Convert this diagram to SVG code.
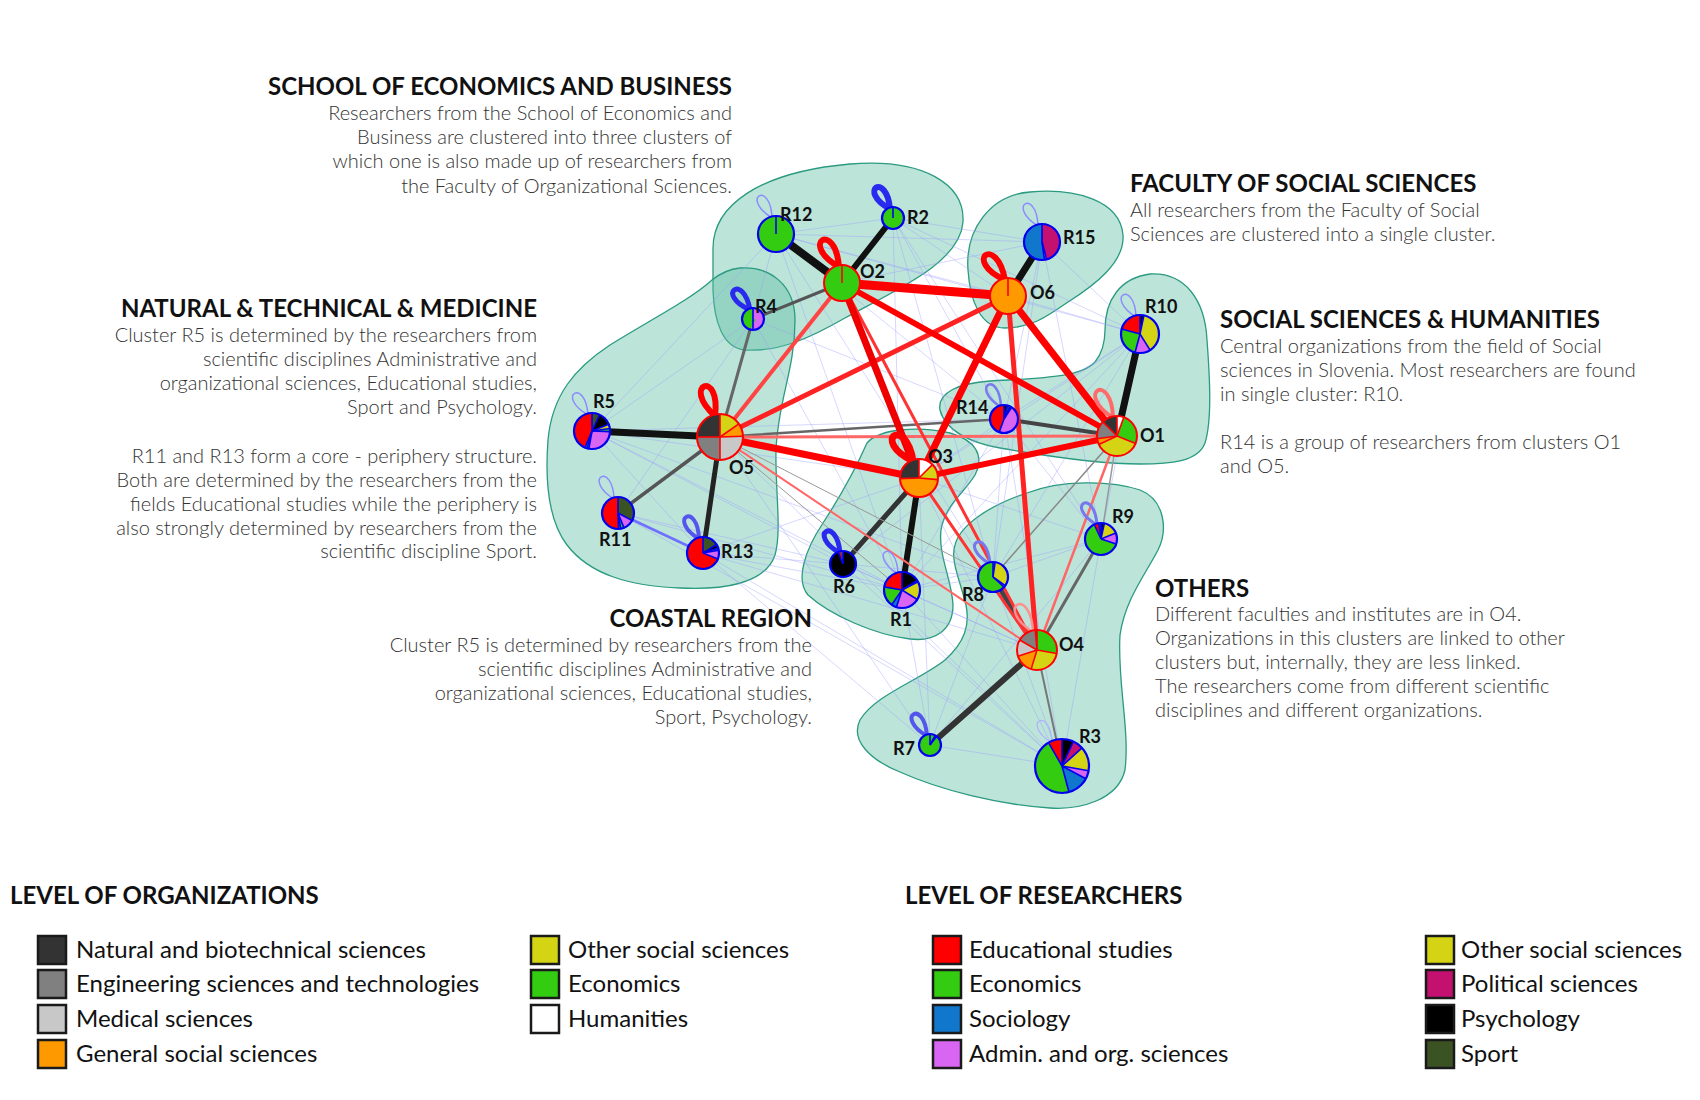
<svg xmlns="http://www.w3.org/2000/svg" xmlns:xlink="http://www.w3.org/1999/xlink" width="1700" height="1100" viewBox="0 0 1700 1100">
<defs>
<style>
.hull{fill:#5fbfa5;fill-opacity:.42;stroke:#2a9a80;stroke-width:1.3}
.title{font-family:Lato,"Liberation Sans",sans-serif;font-weight:700;font-size:24px;fill:#111}
.body{font-family:Lato,"Liberation Sans",sans-serif;font-weight:300;font-size:20px;fill:#333}
.end{text-anchor:end}
.lbl{font-family:Lato,"Liberation Sans",sans-serif;font-weight:700;font-size:18px;fill:#111}
.legh{font-family:Lato,"Liberation Sans",sans-serif;font-weight:700;font-size:24px;fill:#111}
.leg{font-family:Lato,"Liberation Sans",sans-serif;font-weight:400;font-size:24px;fill:#111}
.sw{stroke:#1a1a1a;stroke-width:2.5}
.faint line{stroke:#9a9aff;stroke-width:.8;stroke-opacity:.5}
.seg{fill:none}
.dr line{stroke:#ff0000;stroke-width:1.6}
.db line{stroke:#0000ee;stroke-width:1.6}
.ringO{fill:none;stroke:#ff0000;stroke-width:2}
.ringR{fill:none;stroke:#0000ee;stroke-width:2.2}
</style>
<path id="lps" d="M0,0 C-18,-34 18,-34 0,0" fill="none"/>
<path id="lpb" d="M0,0 C-22,-42 22,-42 0,0" fill="none"/>
</defs>

<rect width="1700" height="1100" fill="#ffffff"/>

<!-- cluster hulls -->
<g id="clusters">
<path class="hull" d="M713,250 C712,205 760,172 850,164 C925,158 965,185 963,222 C960,262 900,288 845,318 C810,338 780,352 745,350 C722,348 714,320 713,290 Z"/>
<path class="hull" d="M740,268 C770,266 795,285 795,320 C795,370 778,400 776,450 C775,490 782,530 775,555 C765,585 720,590 680,588 C630,586 590,575 567,545 C548,520 545,480 548,440 C552,395 575,368 610,345 C650,320 690,300 712,280 C722,272 730,269 740,268 Z"/>
<path class="hull" d="M968,270 C965,230 990,195 1030,192 C1075,188 1120,200 1123,235 C1125,262 1095,285 1068,302 C1045,318 1030,328 1005,328 C980,328 970,300 968,270 Z"/>
<path class="hull" d="M1105,330 C1105,300 1120,278 1150,274 C1185,272 1205,300 1207,340 C1210,380 1212,420 1205,443 C1198,462 1170,464 1140,464 C1100,464 1040,455 1000,448 C970,443 945,430 940,410 C937,392 960,383 990,381 C1040,378 1080,378 1095,362 C1103,352 1105,342 1105,330 Z"/>
<path class="hull" d="M867,443 C880,428 920,426 950,433 C975,440 985,455 975,475 C965,492 945,505 941,530 C938,555 952,580 953,605 C953,630 935,642 910,639 C875,635 830,615 808,595 C795,580 805,550 823,523 C838,500 855,470 867,443 Z"/>
<path class="hull" d="M1027,493 C1060,480 1110,480 1140,490 C1165,500 1168,530 1158,550 C1145,575 1125,600 1120,635 C1117,680 1130,730 1125,770 C1118,800 1080,810 1050,808 C1000,805 940,790 900,772 C870,760 850,740 860,720 C875,695 920,680 945,660 C965,642 970,625 966,605 C960,580 950,560 955,545 C960,525 990,505 1027,493 Z"/>
</g>

<!-- connectors -->
<g id="connectors">
<g class="faint">
<line x1="776" y1="234" x2="893" y2="218"/><line x1="776" y1="234" x2="753" y2="319"/><line x1="776" y1="234" x2="1042" y2="242"/>
<line x1="776" y1="234" x2="1140" y2="334"/><line x1="776" y1="234" x2="1004" y2="419"/><line x1="776" y1="234" x2="993" y2="577"/>
<line x1="776" y1="234" x2="902" y2="590"/><line x1="893" y1="218" x2="1042" y2="242"/><line x1="893" y1="218" x2="1004" y2="419"/>
<line x1="893" y1="218" x2="993" y2="577"/><line x1="893" y1="218" x2="1101" y2="539"/><line x1="893" y1="218" x2="1140" y2="334"/>
<line x1="893" y1="218" x2="902" y2="590"/><line x1="753" y1="319" x2="592" y2="431"/><line x1="753" y1="319" x2="1004" y2="419"/>
<line x1="753" y1="319" x2="618" y2="513"/><line x1="753" y1="319" x2="902" y2="590"/>
<line x1="592" y1="431" x2="1004" y2="419"/><line x1="592" y1="431" x2="902" y2="590"/><line x1="592" y1="431" x2="703" y2="553"/>
<line x1="592" y1="431" x2="843" y2="564"/><line x1="592" y1="431" x2="993" y2="577"/>
<line x1="618" y1="513" x2="902" y2="590"/><line x1="618" y1="513" x2="843" y2="564"/><line x1="618" y1="513" x2="1062" y2="766"/>
<line x1="703" y1="553" x2="902" y2="590"/><line x1="703" y1="553" x2="843" y2="564"/><line x1="703" y1="553" x2="930" y2="745"/>
<line x1="703" y1="553" x2="1062" y2="766"/><line x1="843" y1="564" x2="902" y2="590"/><line x1="843" y1="564" x2="993" y2="577"/>
<line x1="843" y1="564" x2="1062" y2="766"/><line x1="902" y1="590" x2="993" y2="577"/><line x1="902" y1="590" x2="1062" y2="766"/>
<line x1="902" y1="590" x2="930" y2="745"/><line x1="902" y1="590" x2="1101" y2="539"/><line x1="993" y1="577" x2="1101" y2="539"/>
<line x1="993" y1="577" x2="1062" y2="766"/><line x1="993" y1="577" x2="930" y2="745"/><line x1="1101" y1="539" x2="1062" y2="766"/>
<line x1="1101" y1="539" x2="1004" y2="419"/><line x1="1101" y1="539" x2="930" y2="745"/><line x1="1140" y1="334" x2="1004" y2="419"/>
<line x1="1140" y1="334" x2="1042" y2="242"/><line x1="1140" y1="334" x2="1101" y2="539"/><line x1="1140" y1="334" x2="993" y2="577"/>
<line x1="1140" y1="334" x2="902" y2="590"/><line x1="1004" y1="419" x2="902" y2="590"/><line x1="1004" y1="419" x2="993" y2="577"/>
<line x1="1004" y1="419" x2="1062" y2="766"/><line x1="1042" y1="242" x2="1004" y2="419"/><line x1="1042" y1="242" x2="1101" y2="539"/>
<line x1="1042" y1="242" x2="993" y2="577"/><line x1="930" y1="745" x2="1062" y2="766"/><line x1="776" y1="234" x2="592" y2="431"/>
<line x1="1140" y1="334" x2="843" y2="564"/><line x1="776" y1="234" x2="1008" y2="296"/><line x1="893" y1="218" x2="1008" y2="296"/>
<line x1="1042" y1="242" x2="842" y2="283"/><line x1="1140" y1="334" x2="1008" y2="296"/><line x1="1004" y1="419" x2="919" y2="478"/>
<line x1="1101" y1="539" x2="919" y2="478"/><line x1="1062" y1="766" x2="919" y2="478"/><line x1="930" y1="745" x2="919" y2="478"/>
<line x1="902" y1="590" x2="1037" y2="650"/><line x1="843" y1="564" x2="1037" y2="650"/><line x1="592" y1="431" x2="919" y2="478"/>
<line x1="1140" y1="334" x2="919" y2="478"/><line x1="1062" y1="766" x2="720" y2="437"/><line x1="930" y1="745" x2="720" y2="437"/>
<line x1="703" y1="553" x2="919" y2="478"/><line x1="703" y1="553" x2="1037" y2="650"/>
</g>
<g fill="none" stroke-linecap="round">
<line x1="842" y1="283" x2="776" y2="234" stroke="#111" stroke-width="8"/>
<line x1="842" y1="283" x2="893" y2="218" stroke="#111" stroke-width="6"/>
<line x1="842" y1="283" x2="753" y2="319" stroke="#555" stroke-width="3"/>
<line x1="1008" y1="296" x2="1042" y2="242" stroke="#111" stroke-width="7"/>
<line x1="1117" y1="436" x2="1140" y2="334" stroke="#111" stroke-width="7"/>
<line x1="1117" y1="436" x2="1004" y2="419" stroke="#444" stroke-width="4"/>
<line x1="720" y1="437" x2="1004" y2="419" stroke="#666" stroke-width="2.5"/>
<line x1="720" y1="437" x2="592" y2="431" stroke="#111" stroke-width="7"/>
<line x1="720" y1="437" x2="753" y2="319" stroke="#666" stroke-width="3"/>
<line x1="720" y1="437" x2="618" y2="513" stroke="#555" stroke-width="3.5"/>
<line x1="720" y1="437" x2="703" y2="553" stroke="#222" stroke-width="5"/>
<line x1="618" y1="513" x2="703" y2="553" stroke="#7070ff" stroke-width="2.5"/>
<line x1="919" y1="478" x2="843" y2="564" stroke="#333" stroke-width="5"/>
<line x1="919" y1="478" x2="902" y2="590" stroke="#111" stroke-width="6"/>
<line x1="1037" y1="650" x2="993" y2="577" stroke="#444" stroke-width="5"/>
<line x1="1037" y1="650" x2="1101" y2="539" stroke="#666" stroke-width="3"/>
<line x1="1037" y1="650" x2="930" y2="745" stroke="#333" stroke-width="6"/>
<line x1="1037" y1="650" x2="1062" y2="766" stroke="#777" stroke-width="2"/>
<line x1="1117" y1="436" x2="993" y2="577" stroke="#888" stroke-width="1.5"/>
<line x1="1117" y1="436" x2="1101" y2="539" stroke="#999" stroke-width="1.5"/>
<line x1="720" y1="437" x2="993" y2="577" stroke="#999" stroke-width="1"/>
<line x1="720" y1="437" x2="902" y2="590" stroke="#999" stroke-width="1"/>
</g>
<g fill="none" stroke-linecap="round">
<line x1="720" y1="437" x2="1117" y2="436" stroke="#ff6666" stroke-width="3"/>
<line x1="720" y1="437" x2="1037" y2="650" stroke="#ff6666" stroke-width="2"/>
<line x1="1117" y1="436" x2="1037" y2="650" stroke="#ff6666" stroke-width="2.5"/>
<line x1="842" y1="283" x2="1037" y2="650" stroke="#ff3333" stroke-width="3"/>
<line x1="919" y1="478" x2="1037" y2="650" stroke="#ff3333" stroke-width="3"/>
<line x1="720" y1="437" x2="842" y2="283" stroke="#ff4444" stroke-width="4"/>
<line x1="720" y1="437" x2="1008" y2="296" stroke="#ff2222" stroke-width="5"/>
<line x1="1008" y1="296" x2="1037" y2="650" stroke="#ff2222" stroke-width="5"/>
<line x1="842" y1="283" x2="1117" y2="436" stroke="#ff0000" stroke-width="6"/>
<line x1="842" y1="283" x2="919" y2="478" stroke="#ee0000" stroke-width="7"/>
<line x1="1008" y1="296" x2="919" y2="478" stroke="#ff0000" stroke-width="7"/>
<line x1="1008" y1="296" x2="1117" y2="436" stroke="#ff0000" stroke-width="7"/>
<line x1="720" y1="437" x2="919" y2="478" stroke="#ff0000" stroke-width="7"/>
<line x1="919" y1="478" x2="1117" y2="436" stroke="#ff0000" stroke-width="6"/>
<line x1="842" y1="283" x2="1008" y2="296" stroke="#ff0000" stroke-width="9"/>
</g>
</g>

<!-- nodes: organizations (red rim) and researcher groups (blue rim) -->
<g id="O2" transform="translate(842,283)">
<use xlink:href="#lpb" transform="translate(-3,-16) rotate(-32)" stroke="#ff0000" stroke-width="6"/>
<circle r="18" fill="#33cc11"/>
<g class="dr"><line y2="-18"/></g><circle r="18" class="ringO"/>
</g>
<g id="R12" transform="translate(776,234)">
<use xlink:href="#lps" transform="translate(-4,-16) rotate(-30)" stroke="#8c8cff" stroke-width="1.5"/>
<circle r="18" fill="#33cc11"/>
<g class="db"><line y2="-18"/></g><circle r="18" class="ringR"/>
</g>
<g id="R2" transform="translate(893,218)">
<use xlink:href="#lps" transform="translate(-3,-9) rotate(-33)" stroke="#2a2aee" stroke-width="6"/>
<circle r="11" fill="#33cc11"/>
<g class="db"><line y2="-11"/></g><circle r="11" class="ringR"/>
</g>
<g id="R4" transform="translate(753,319)">
<use xlink:href="#lps" transform="translate(-3,-9) rotate(-38)" stroke="#2a2aee" stroke-width="5"/>
<circle r="11" fill="#33cc11"/>
<g transform="rotate(-90)"><circle class="seg" r="5.5" stroke-width="11" pathLength="360" stroke="#d966f2" stroke-dasharray="180 360"/></g>
<g class="db"><line y2="-11"/><line y2="-11" transform="rotate(180)"/></g><circle r="11" class="ringR"/>
</g>
<g id="O6" transform="translate(1008,296)">
<use xlink:href="#lpb" transform="translate(-3,-16) rotate(-38)" stroke="#ff0000" stroke-width="6"/>
<circle r="18" fill="#ff9900"/>
<g class="dr"><line y2="-18"/></g><circle r="18" class="ringO"/>
</g>
<g id="R15" transform="translate(1042,242)">
<use xlink:href="#lps" transform="translate(-4,-16) rotate(-30)" stroke="#8c8cff" stroke-width="1.5"/>
<circle r="18" fill="#1177cc"/>
<g transform="rotate(-90)">
<circle class="seg" r="9" stroke-width="18" pathLength="360" stroke="#c4106f" stroke-dasharray="165 360"/>
<circle class="seg" r="9" stroke-width="18" pathLength="360" stroke="#d966f2" stroke-dasharray="7 360" stroke-dashoffset="-165"/>
</g>
<g class="db"><line y2="-18"/><line y2="-18" transform="rotate(165)"/><line y2="-18" transform="rotate(172)"/></g><circle r="18" class="ringR"/>
</g>
<g id="R10" transform="translate(1140,334)">
<use xlink:href="#lps" transform="translate(-4,-17) rotate(-30)" stroke="#8c8cff" stroke-width="1.5"/>
<circle r="19" fill="#d4d414"/>
<g transform="rotate(-90)">
<circle class="seg" r="9.5" stroke-width="19" pathLength="360" stroke="#000" stroke-dasharray="12 360"/>
<circle class="seg" r="9.5" stroke-width="19" pathLength="360" stroke="#d966f2" stroke-dasharray="47 360" stroke-dashoffset="-148"/>
<circle class="seg" r="9.5" stroke-width="19" pathLength="360" stroke="#33cc11" stroke-dasharray="90 360" stroke-dashoffset="-195"/>
<circle class="seg" r="9.5" stroke-width="19" pathLength="360" stroke="#ff0000" stroke-dasharray="75 360" stroke-dashoffset="-285"/>
</g>
<g class="db"><line y2="-19"/><line y2="-19" transform="rotate(12)"/><line y2="-19" transform="rotate(148)"/><line y2="-19" transform="rotate(195)"/><line y2="-19" transform="rotate(285)"/></g><circle r="19" class="ringR"/>
</g>
<g id="O1" transform="translate(1117,436)">
<use xlink:href="#lpb" transform="translate(-4,-18) rotate(-29)" stroke="#ff6a6a" stroke-width="4"/>
<circle r="20" fill="#d4d414"/>
<g transform="rotate(-90)">
<circle class="seg" r="10" stroke-width="20" pathLength="360" stroke="#fff" stroke-dasharray="20 360"/>
<circle class="seg" r="10" stroke-width="20" pathLength="360" stroke="#33cc11" stroke-dasharray="92 360" stroke-dashoffset="-20"/>
<circle class="seg" r="10" stroke-width="20" pathLength="360" stroke="#ff9900" stroke-dasharray="17 360" stroke-dashoffset="-245"/>
<circle class="seg" r="10" stroke-width="20" pathLength="360" stroke="#808080" stroke-dasharray="53 360" stroke-dashoffset="-262"/>
<circle class="seg" r="10" stroke-width="20" pathLength="360" stroke="#333" stroke-dasharray="45 360" stroke-dashoffset="-315"/>
</g>
<g class="dr"><line y2="-20"/><line y2="-20" transform="rotate(20)"/><line y2="-20" transform="rotate(112)"/><line y2="-20" transform="rotate(245)"/><line y2="-20" transform="rotate(262)"/><line y2="-20" transform="rotate(315)"/></g><circle r="20" class="ringO"/>
</g>
<g id="R14" transform="translate(1004,419)">
<use xlink:href="#lps" transform="translate(-3,-12) rotate(-30)" stroke="#7a7aee" stroke-width="2.5"/>
<circle r="14" fill="#ff0000"/>
<g transform="rotate(-90)">
<circle class="seg" r="7" stroke-width="14" pathLength="360" stroke="#000" stroke-dasharray="14 360"/>
<circle class="seg" r="7" stroke-width="14" pathLength="360" stroke="#3b5323" stroke-dasharray="12 360" stroke-dashoffset="-14"/>
<circle class="seg" r="7" stroke-width="14" pathLength="360" stroke="#33cc11" stroke-dasharray="7 360" stroke-dashoffset="-26"/>
<circle class="seg" r="7" stroke-width="14" pathLength="360" stroke="#d966f2" stroke-dasharray="167 360" stroke-dashoffset="-33"/>
</g>
<g class="db"><line y2="-14"/><line y2="-14" transform="rotate(14)"/><line y2="-14" transform="rotate(26)"/><line y2="-14" transform="rotate(33)"/><line y2="-14" transform="rotate(200)"/></g><circle r="14" class="ringR"/>
</g>
<g id="O5" transform="translate(720,437)">
<use xlink:href="#lpb" transform="translate(-5,-21) rotate(-20)" stroke="#ff0000" stroke-width="6"/>
<circle r="23" fill="#c8c8c8"/>
<g transform="rotate(-90)">
<circle class="seg" r="11.5" stroke-width="23" pathLength="360" stroke="#d4d414" stroke-dasharray="55 360"/>
<circle class="seg" r="11.5" stroke-width="23" pathLength="360" stroke="#ff9900" stroke-dasharray="33 360" stroke-dashoffset="-55"/>
<circle class="seg" r="11.5" stroke-width="23" pathLength="360" stroke="#808080" stroke-dasharray="90 360" stroke-dashoffset="-180"/>
<circle class="seg" r="11.5" stroke-width="23" pathLength="360" stroke="#333" stroke-dasharray="90 360" stroke-dashoffset="-270"/>
</g>
<g class="dr"><line y2="-23"/><line y2="-23" transform="rotate(55)"/><line y2="-23" transform="rotate(88)"/><line y2="-23" transform="rotate(180)"/><line y2="-23" transform="rotate(270)"/></g><circle r="23" class="ringO"/>
</g>
<g id="R5" transform="translate(592,431)">
<use xlink:href="#lps" transform="translate(-4,-16) rotate(-32)" stroke="#8c8cff" stroke-width="1.5"/>
<circle r="18" fill="#ff0000"/>
<g transform="rotate(-90)">
<circle class="seg" r="9" stroke-width="18" pathLength="360" stroke="#3b5323" stroke-dasharray="25 360"/>
<circle class="seg" r="9" stroke-width="18" pathLength="360" stroke="#000" stroke-dasharray="43 360" stroke-dashoffset="-25"/>
<circle class="seg" r="9" stroke-width="18" pathLength="360" stroke="#d4d414" stroke-dasharray="14 360" stroke-dashoffset="-68"/>
<circle class="seg" r="9" stroke-width="18" pathLength="360" stroke="#33cc11" stroke-dasharray="10 360" stroke-dashoffset="-82"/>
<circle class="seg" r="9" stroke-width="18" pathLength="360" stroke="#d966f2" stroke-dasharray="98 360" stroke-dashoffset="-92"/>
<circle class="seg" r="9" stroke-width="18" pathLength="360" stroke="#1177cc" stroke-dasharray="6 360" stroke-dashoffset="-190"/>
<circle class="seg" r="9" stroke-width="18" pathLength="360" stroke="#33cc11" stroke-dasharray="7 360" stroke-dashoffset="-196"/>
</g>
<g class="db"><line y2="-18"/><line y2="-18" transform="rotate(25)"/><line y2="-18" transform="rotate(68)"/><line y2="-18" transform="rotate(82)"/><line y2="-18" transform="rotate(92)"/><line y2="-18" transform="rotate(190)"/><line y2="-18" transform="rotate(196)"/><line y2="-18" transform="rotate(203)"/></g><circle r="18" class="ringR"/>
</g>
<g id="R11" transform="translate(618,513)">
<use xlink:href="#lps" transform="translate(-4,-14) rotate(-30)" stroke="#8c8cff" stroke-width="1.5"/>
<circle r="16" fill="#ff0000"/>
<g transform="rotate(-90)">
<circle class="seg" r="8" stroke-width="16" pathLength="360" stroke="#3b5323" stroke-dasharray="118 360"/>
<circle class="seg" r="8" stroke-width="16" pathLength="360" stroke="#d966f2" stroke-dasharray="40 360" stroke-dashoffset="-118"/>
<circle class="seg" r="8" stroke-width="16" pathLength="360" stroke="#33cc11" stroke-dasharray="12 360" stroke-dashoffset="-158"/>
<circle class="seg" r="8" stroke-width="16" pathLength="360" stroke="#1177cc" stroke-dasharray="8 360" stroke-dashoffset="-170"/>
</g>
<g class="db"><line y2="-16"/><line y2="-16" transform="rotate(118)"/><line y2="-16" transform="rotate(158)"/><line y2="-16" transform="rotate(170)"/><line y2="-16" transform="rotate(178)"/></g><circle r="16" class="ringR"/>
</g>
<g id="R13" transform="translate(703,553)">
<use xlink:href="#lps" transform="translate(-4,-14) rotate(-30)" stroke="#5555ee" stroke-width="4"/>
<circle r="16" fill="#ff0000"/>
<g transform="rotate(-90)">
<circle class="seg" r="8" stroke-width="16" pathLength="360" stroke="#3b5323" stroke-dasharray="58 360"/>
<circle class="seg" r="8" stroke-width="16" pathLength="360" stroke="#000" stroke-dasharray="14 360" stroke-dashoffset="-58"/>
<circle class="seg" r="8" stroke-width="16" pathLength="360" stroke="#1177cc" stroke-dasharray="8 360" stroke-dashoffset="-72"/>
<circle class="seg" r="8" stroke-width="16" pathLength="360" stroke="#d966f2" stroke-dasharray="32 360" stroke-dashoffset="-80"/>
</g>
<g class="db"><line y2="-16"/><line y2="-16" transform="rotate(58)"/><line y2="-16" transform="rotate(72)"/><line y2="-16" transform="rotate(80)"/><line y2="-16" transform="rotate(112)"/></g><circle r="16" class="ringR"/>
</g>
<g id="O3" transform="translate(919,478)">
<use xlink:href="#lpb" transform="translate(-6,-17) rotate(-37)" stroke="#ff0000" stroke-width="7"/>
<circle r="19" fill="#ff9900"/>
<g transform="rotate(-90)">
<circle class="seg" r="9.5" stroke-width="19" pathLength="360" stroke="#fff" stroke-dasharray="45 360"/>
<circle class="seg" r="9.5" stroke-width="19" pathLength="360" stroke="#d4d414" stroke-dasharray="50 360" stroke-dashoffset="-45"/>
<circle class="seg" r="9.5" stroke-width="19" pathLength="360" stroke="#333" stroke-dasharray="92 360" stroke-dashoffset="-268"/>
</g>
<g class="dr"><line y2="-19"/><line y2="-19" transform="rotate(45)"/><line y2="-19" transform="rotate(95)"/><line y2="-19" transform="rotate(268)"/></g><circle r="19" class="ringO"/>
</g>
<g id="R6" transform="translate(843,564)">
<use xlink:href="#lps" transform="translate(-3,-11) rotate(-33)" stroke="#2a2aee" stroke-width="5"/>
<circle r="13" fill="#000"/>
<g transform="rotate(-90)">
<circle class="seg" r="6.5" stroke-width="13" pathLength="360" stroke="#ff0000" stroke-dasharray="12 360" stroke-dashoffset="-338"/>
<circle class="seg" r="6.5" stroke-width="13" pathLength="360" stroke="#1177cc" stroke-dasharray="10 360" stroke-dashoffset="-350"/>
</g>
<g class="db"><line y2="-13"/><line y2="-13" transform="rotate(338)"/></g><circle r="13" class="ringR"/>
</g>
<g id="R1" transform="translate(902,590)">
<use xlink:href="#lps" transform="translate(-4,-16) rotate(-30)" stroke="#8c8cff" stroke-width="1.5"/>
<circle r="18" fill="#33cc11"/>
<g transform="rotate(-90)">
<circle class="seg" r="9" stroke-width="18" pathLength="360" stroke="#000" stroke-dasharray="58 360"/>
<circle class="seg" r="9" stroke-width="18" pathLength="360" stroke="#ff0000" stroke-dasharray="5 360" stroke-dashoffset="-58"/>
<circle class="seg" r="9" stroke-width="18" pathLength="360" stroke="#d4d414" stroke-dasharray="59 360" stroke-dashoffset="-63"/>
<circle class="seg" r="9" stroke-width="18" pathLength="360" stroke="#d966f2" stroke-dasharray="76 360" stroke-dashoffset="-122"/>
<circle class="seg" r="9" stroke-width="18" pathLength="360" stroke="#1177cc" stroke-dasharray="17 360" stroke-dashoffset="-198"/>
<circle class="seg" r="9" stroke-width="18" pathLength="360" stroke="#ff0000" stroke-dasharray="80 360" stroke-dashoffset="-280"/>
</g>
<g class="db"><line y2="-18"/><line y2="-18" transform="rotate(58)"/><line y2="-18" transform="rotate(63)"/><line y2="-18" transform="rotate(122)"/><line y2="-18" transform="rotate(198)"/><line y2="-18" transform="rotate(215)"/><line y2="-18" transform="rotate(280)"/></g><circle r="18" class="ringR"/>
</g>
<g id="R8" transform="translate(993,577)">
<use xlink:href="#lps" transform="translate(-3,-13) rotate(-32)" stroke="#7777ee" stroke-width="3"/>
<circle r="15" fill="#33cc11"/>
<g transform="rotate(-90)">
<circle class="seg" r="7.5" stroke-width="15" pathLength="360" stroke="#1177cc" stroke-dasharray="8 360"/>
<circle class="seg" r="7.5" stroke-width="15" pathLength="360" stroke="#d4d414" stroke-dasharray="117 360" stroke-dashoffset="-8"/>
<circle class="seg" r="7.5" stroke-width="15" pathLength="360" stroke="#d966f2" stroke-dasharray="7 360" stroke-dashoffset="-125"/>
</g>
<g class="db"><line y2="-15"/><line y2="-15" transform="rotate(8)"/><line y2="-15" transform="rotate(125)"/><line y2="-15" transform="rotate(132)"/></g><circle r="15" class="ringR"/>
</g>
<g id="R9" transform="translate(1101,539)">
<use xlink:href="#lps" transform="translate(-4,-14) rotate(-32)" stroke="#7777ee" stroke-width="3"/>
<circle r="16" fill="#33cc11"/>
<g transform="rotate(-90)">
<circle class="seg" r="8" stroke-width="16" pathLength="360" stroke="#000" stroke-dasharray="12 360"/>
<circle class="seg" r="8" stroke-width="16" pathLength="360" stroke="#d4d414" stroke-dasharray="56 360" stroke-dashoffset="-12"/>
<circle class="seg" r="8" stroke-width="16" pathLength="360" stroke="#d966f2" stroke-dasharray="40 360" stroke-dashoffset="-68"/>
<circle class="seg" r="8" stroke-width="16" pathLength="360" stroke="#ff0000" stroke-dasharray="17 360" stroke-dashoffset="-335"/>
<circle class="seg" r="8" stroke-width="16" pathLength="360" stroke="#1177cc" stroke-dasharray="8 360" stroke-dashoffset="-352"/>
</g>
<g class="db"><line y2="-16"/><line y2="-16" transform="rotate(12)"/><line y2="-16" transform="rotate(68)"/><line y2="-16" transform="rotate(108)"/><line y2="-16" transform="rotate(335)"/><line y2="-16" transform="rotate(352)"/></g><circle r="16" class="ringR"/>
</g>
<g id="O4" transform="translate(1037,650)">
<use xlink:href="#lpb" transform="translate(-4,-18) rotate(-30)" stroke="#ff9090" stroke-width="2.5"/>
<circle r="20" fill="#33cc11"/>
<g transform="rotate(-90)">
<circle class="seg" r="10" stroke-width="20" pathLength="360" stroke="#d4d414" stroke-dasharray="97 360" stroke-dashoffset="-100"/>
<circle class="seg" r="10" stroke-width="20" pathLength="360" stroke="#ff9900" stroke-dasharray="55 360" stroke-dashoffset="-197"/>
<circle class="seg" r="10" stroke-width="20" pathLength="360" stroke="#c8c8c8" stroke-dasharray="48 360" stroke-dashoffset="-252"/>
<circle class="seg" r="10" stroke-width="20" pathLength="360" stroke="#808080" stroke-dasharray="55 360" stroke-dashoffset="-300"/>
<circle class="seg" r="10" stroke-width="20" pathLength="360" stroke="#333" stroke-dasharray="5 360" stroke-dashoffset="-355"/>
</g>
<g class="dr"><line y2="-20"/><line y2="-20" transform="rotate(100)"/><line y2="-20" transform="rotate(197)"/><line y2="-20" transform="rotate(252)"/><line y2="-20" transform="rotate(300)"/><line y2="-20" transform="rotate(355)"/></g><circle r="20" class="ringO"/>
</g>
<g id="R7" transform="translate(930,745)">
<use xlink:href="#lps" transform="translate(-3,-9) rotate(-32)" stroke="#5555ee" stroke-width="4"/>
<circle r="11" fill="#33cc11"/>
<g class="db"><line y2="-11"/><line y2="-11" transform="rotate(28)"/><line y2="-11" transform="rotate(38)"/></g><circle r="11" class="ringR"/>
</g>
<g id="R3" transform="translate(1062,766)">
<use xlink:href="#lps" transform="translate(-10,-23) rotate(-30)" stroke="#b0b0ff" stroke-width="1.2"/>
<circle r="27" fill="#33cc11"/>
<g transform="rotate(-90)">
<circle class="seg" r="13.5" stroke-width="27" pathLength="360" stroke="#000" stroke-dasharray="25 360"/>
<circle class="seg" r="13.5" stroke-width="27" pathLength="360" stroke="#c4106f" stroke-dasharray="23 360" stroke-dashoffset="-25"/>
<circle class="seg" r="13.5" stroke-width="27" pathLength="360" stroke="#d4d414" stroke-dasharray="52 360" stroke-dashoffset="-48"/>
<circle class="seg" r="13.5" stroke-width="27" pathLength="360" stroke="#d966f2" stroke-dasharray="18 360" stroke-dashoffset="-100"/>
<circle class="seg" r="13.5" stroke-width="27" pathLength="360" stroke="#1177cc" stroke-dasharray="47 360" stroke-dashoffset="-118"/>
<circle class="seg" r="13.5" stroke-width="27" pathLength="360" stroke="#ff0000" stroke-dasharray="30 360" stroke-dashoffset="-330"/>
</g>
<g class="db"><line y2="-27"/><line y2="-27" transform="rotate(25)"/><line y2="-27" transform="rotate(48)"/><line y2="-27" transform="rotate(100)"/><line y2="-27" transform="rotate(118)"/><line y2="-27" transform="rotate(165)"/><line y2="-27" transform="rotate(330)"/></g><circle r="27" class="ringR"/>
</g>

<!-- node labels -->
<g id="labels" class="lbl">
<text x="780" y="221">R12</text>
<text x="907" y="224">R2</text>
<text x="860" y="278">O2</text>
<text x="755" y="313">R4</text>
<text x="1063" y="244">R15</text>
<text x="1030" y="299">O6</text>
<text x="1145" y="313">R10</text>
<text x="1140" y="442">O1</text>
<text x="956" y="414">R14</text>
<text x="593" y="408">R5</text>
<text x="729" y="474">O5</text>
<text x="599" y="546">R11</text>
<text x="721" y="558">R13</text>
<text x="928" y="463">O3</text>
<text x="833" y="593">R6</text>
<text x="890" y="626">R1</text>
<text x="962" y="601">R8</text>
<text x="1059" y="651">O4</text>
<text x="1112" y="523">R9</text>
<text x="893" y="755">R7</text>
<text x="1079" y="743">R3</text>
</g>

<!-- cluster descriptions -->
<g id="notes">
<text class="title end" x="732" y="95">SCHOOL OF ECONOMICS AND BUSINESS</text>
<text class="body end" x="732" y="120">Researchers from the School of Economics and</text>
<text class="body end" x="732" y="144">Business are clustered into three clusters of</text>
<text class="body end" x="732" y="168">which one is also made up of researchers from</text>
<text class="body end" x="732" y="193">the Faculty of Organizational Sciences.</text>

<text class="title end" x="537" y="317">NATURAL &amp; TECHNICAL &amp; MEDICINE</text>
<text class="body end" x="537" y="342">Cluster R5 is determined by the researchers from</text>
<text class="body end" x="537" y="366">scientific disciplines Administrative and</text>
<text class="body end" x="537" y="390">organizational sciences, Educational studies,</text>
<text class="body end" x="537" y="414">Sport and Psychology.</text>
<text class="body end" x="537" y="463">R11 and R13 form a core - periphery structure.</text>
<text class="body end" x="537" y="487">Both are determined by the researchers from the</text>
<text class="body end" x="537" y="511">fields Educational studies while the periphery is</text>
<text class="body end" x="537" y="535">also strongly determined by researchers from the</text>
<text class="body end" x="537" y="558">scientific discipline Sport.</text>

<text class="title end" x="812" y="627">COASTAL REGION</text>
<text class="body end" x="812" y="652">Cluster R5 is determined by researchers from the</text>
<text class="body end" x="812" y="676">scientific disciplines Administrative and</text>
<text class="body end" x="812" y="700">organizational sciences, Educational studies,</text>
<text class="body end" x="812" y="724">Sport, Psychology.</text>

<text class="title" x="1130" y="192">FACULTY OF SOCIAL SCIENCES</text>
<text class="body" x="1130" y="217">All researchers from the Faculty of Social</text>
<text class="body" x="1130" y="241">Sciences are clustered into a single cluster.</text>

<text class="title" x="1220" y="328">SOCIAL SCIENCES &amp; HUMANITIES</text>
<text class="body" x="1220" y="353">Central organizations from the field of Social</text>
<text class="body" x="1220" y="377">sciences in Slovenia. Most researchers are found</text>
<text class="body" x="1220" y="401">in single cluster: R10.</text>
<text class="body" x="1220" y="449">R14 is a group of researchers from clusters O1</text>
<text class="body" x="1220" y="473">and O5.</text>

<text class="title" x="1155" y="597">OTHERS</text>
<text class="body" x="1155" y="621">Different faculties and institutes are in O4.</text>
<text class="body" x="1155" y="645">Organizations in this clusters are linked to other</text>
<text class="body" x="1155" y="669">clusters but, internally, they are less linked.</text>
<text class="body" x="1155" y="693">The researchers come from different scientific</text>
<text class="body" x="1155" y="717">disciplines and different organizations.</text>
</g>

<!-- legend -->
<g id="legend-organizations">
<text class="legh" x="10" y="904">LEVEL OF ORGANIZATIONS</text>
<rect class="sw" x="38" y="936" width="28" height="28" fill="#333333"/>
<rect class="sw" x="38" y="970" width="28" height="28" fill="#808080"/>
<rect class="sw" x="38" y="1005" width="28" height="28" fill="#c8c8c8"/>
<rect class="sw" x="38" y="1040" width="28" height="28" fill="#ff9900"/>
<text class="leg" x="76" y="958">Natural and biotechnical sciences</text>
<text class="leg" x="76" y="992">Engineering sciences and technologies</text>
<text class="leg" x="76" y="1027">Medical sciences</text>
<text class="leg" x="76" y="1062">General social sciences</text>
<rect class="sw" x="531" y="936" width="28" height="28" fill="#d4d414"/>
<rect class="sw" x="531" y="970" width="28" height="28" fill="#33cc11"/>
<rect class="sw" x="531" y="1005" width="28" height="28" fill="#ffffff"/>
<text class="leg" x="568" y="958">Other social sciences</text>
<text class="leg" x="568" y="992">Economics</text>
<text class="leg" x="568" y="1027">Humanities</text>
</g>
<g id="legend-researchers">
<text class="legh" x="905" y="904">LEVEL OF RESEARCHERS</text>
<rect class="sw" x="933" y="936" width="28" height="28" fill="#ff0000"/>
<rect class="sw" x="933" y="970" width="28" height="28" fill="#33cc11"/>
<rect class="sw" x="933" y="1005" width="28" height="28" fill="#1177cc"/>
<rect class="sw" x="933" y="1040" width="28" height="28" fill="#d966f2"/>
<text class="leg" x="969" y="958">Educational studies</text>
<text class="leg" x="969" y="992">Economics</text>
<text class="leg" x="969" y="1027">Sociology</text>
<text class="leg" x="969" y="1062">Admin. and org. sciences</text>
<rect class="sw" x="1426" y="936" width="28" height="28" fill="#d4d414"/>
<rect class="sw" x="1426" y="970" width="28" height="28" fill="#c4106f"/>
<rect class="sw" x="1426" y="1005" width="28" height="28" fill="#000000"/>
<rect class="sw" x="1426" y="1040" width="28" height="28" fill="#3b5323"/>
<text class="leg" x="1461" y="958">Other social sciences</text>
<text class="leg" x="1461" y="992">Political sciences</text>
<text class="leg" x="1461" y="1027">Psychology</text>
<text class="leg" x="1461" y="1062">Sport</text>
</g>
</svg>
